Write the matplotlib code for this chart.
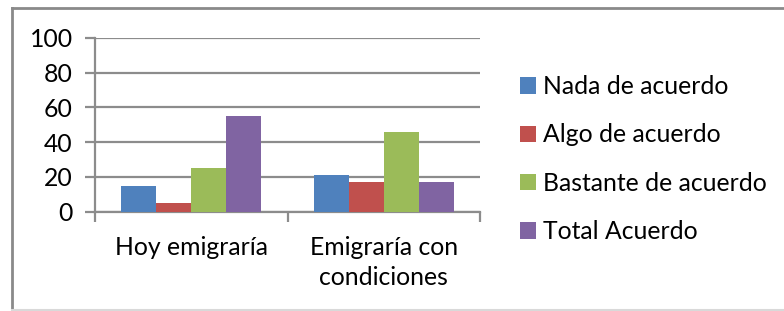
import numpy as np
import matplotlib
matplotlib.use("Agg")
import matplotlib.pyplot as plt
from matplotlib.lines import Line2D

plt.rcParams['font.family'] = ['Lato', 'DejaVu Sans']

# data
categories = ["Hoy emigraría", "Emigraría con\ncondiciones"]
series_names = ["Nada de acuerdo", "Algo de acuerdo", "Bastante de acuerdo", "Total Acuerdo"]
nada = [15, 21]
algo = [5, 17]
bastante = [25, 46]
total = [55, 17]
colors = ["#4F81BD", "#C0504D", "#9BBB59", "#8064A2"]
yticks = [0, 20, 40, 60, 80, 100]

fs = 17.8
fig = plt.figure(figsize=(7.84, 3.11), dpi=100)
ax = fig.add_axes([95/784, 1 - 211.7/311, 385/784, 174/311])

x = np.arange(len(categories))
w = 0.182
for i, (vals, name, c) in enumerate(zip([nada, algo, bastante, total], series_names, colors)):
    ax.bar(x + (i - 1.5) * w, vals, w, color=c, label=name, zorder=3)

ax.set_xlim(-0.5, 1.5)
ax.set_ylim(0, 100)
ax.set_yticks(yticks)
ax.yaxis.grid(True, color="#8c8c8c", linewidth=1.6, zorder=0)
ax.set_xticks([-0.5, 0.5, 1.5], minor=False)
ax.set_xticklabels([])
ax.set_xticks(x, minor=True)
ax.set_xticklabels(categories, minor=True, fontsize=fs, linespacing=1.35)
ax.tick_params(axis='x', which='minor', length=0, pad=17.5)
ax.tick_params(axis='x', which='major', length=7, width=1.6, color="#8c8c8c")
ax.tick_params(axis='y', length=7, width=1.6, color="#8c8c8c", labelsize=fs, pad=9)
for s in ["top", "right"]:
    ax.spines[s].set_visible(False)
ax.spines["left"].set_color("#8c8c8c")
ax.spines["left"].set_linewidth(1.6)
ax.spines["bottom"].set_color("#8c8c8c")
ax.spines["bottom"].set_linewidth(1.6)

ax.legend(loc="upper left", bbox_to_anchor=(520/784, 1 - 75/311), bbox_transform=fig.transFigure,
          frameon=False, fontsize=fs, handlelength=0.65, handleheight=0.65,
          handletextpad=0.3, labelspacing=1.03, borderpad=0, borderaxespad=0)

# outer chart border (cropped box)
fig.add_artist(Line2D([12/784, 12/784], [0, 1 - 7.5/311], transform=fig.transFigure, color="#8a8a8a", lw=2))
fig.add_artist(Line2D([12/784, 1], [1 - 7.5/311, 1 - 7.5/311], transform=fig.transFigure, color="#8a8a8a", lw=2))
fig.add_artist(Line2D([12/784, 1], [1/311, 1/311], transform=fig.transFigure, color="#d9d9d9", lw=1.5))

fig.savefig("out.png", dpi=100)
